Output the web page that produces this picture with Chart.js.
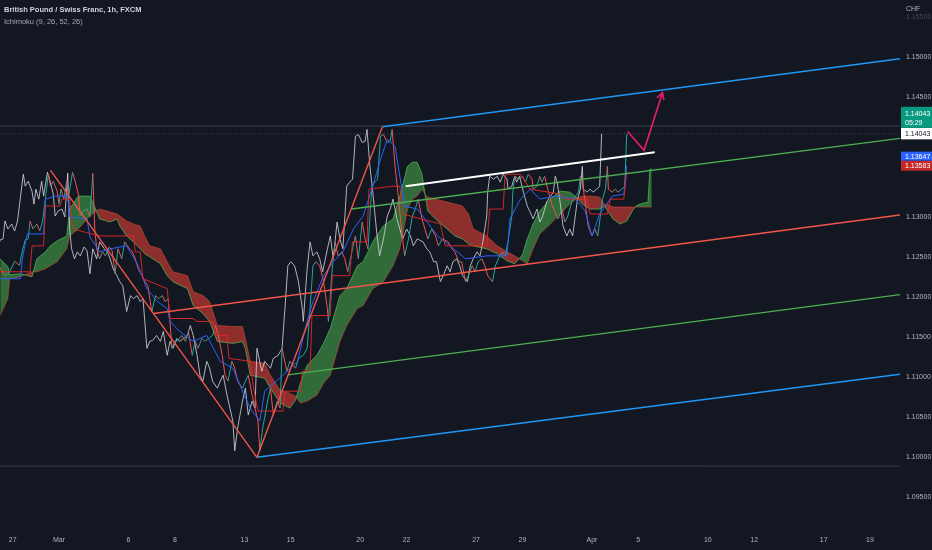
<!DOCTYPE html>
<html><head><meta charset="utf-8">
<script src="https://cdn.jsdelivr.net/npm/chart.js@4.4.1/dist/chart.umd.min.js"></script>
<style>
html,body{margin:0;padding:0;background:#131722;overflow:hidden;}
canvas{display:block;}
</style></head>
<body>
<canvas id="c" width="932" height="550"></canvas>
<script>
// ---- time axis: trading hours since Mon 27 Feb 00:00 ----
const dayTickHours  = [0,48,120,168,240,288,360,408,480,528,600,648,720,768,840,888];
const dayTickLabels = ['27','Mar','6','8','13','15','20','22','27','29','Apr','5','10','12','17','19'];
const priceTicks = [1.095,1.100,1.105,1.110,1.115,1.120,1.125,1.130,1.145,1.150,1.155];

// ---- close prices (hour, value) ----
const closeHours = [-13,-8,-3,2,7,10,13,16,18,21,25,28,31,34,37,39,42,46,48,50,53,56,58,62,65,68,70,73,77,80,83,85,87,90,93,96,100,103,106,109,113,116,121,124,127,130,134,137,140,144,148,151,155,158,161,165,168,171,175,179,182,186,189,192,196,199,207,210,213,217,220,223,227,230,233,238,241,244,248,251,254,256,259,264,267,270,274,277,279,284,287,293,296,301,305,308,311,314,318,322,326,327,331,334,337,341,344,347,352,355,358,362,365,368,372,375,378,381,384,388,391,393,396,399,403,406,410,414,417,420,424,427,430,434,438,441,445,451,455,458,462,465,469,472,476,479,482,486,489,492,497,500,503,507,510,513,517,518,520,524,528,531,534,538,539,543,546,548,551,555,559,562,565,569,572,575,579,583,586,588,590,593,596,600,603,606,611,614,616,617,621,624,627,631,634,636];
const closeValues = [1.1237,1.1227,1.1232,1.1245,1.1240,1.1258,1.12717,1.1273,1.12954,1.12854,1.12916,1.12829,1.12954,1.13252,1.13538,1.13389,1.13451,1.13327,1.13165,1.13352,1.13227,1.13451,1.13265,1.13563,1.13439,1.1329,1.13016,1.13078,1.13103,1.13004,1.13551,1.12854,1.12606,1.12481,1.12568,1.12518,1.1263,1.12581,1.12295,1.12606,1.12481,1.12693,1.12606,1.12568,1.12481,1.12357,1.1227,1.12195,1.12145,1.11822,1.12021,1.11984,1.12021,1.11946,1.11984,1.11362,1.11449,1.11461,1.11523,1.11449,1.11573,1.11275,1.11449,1.11362,1.11486,1.11449,1.11523,1.11648,1.11523,1.11275,1.11026,1.10951,1.112,1.11113,1.10951,1.10864,1.10951,1.11026,1.10777,1.10615,1.10454,1.10081,1.10367,1.10703,1.10864,1.10528,1.10703,1.10615,1.11362,1.11076,1.112,1.11113,1.11237,1.11275,1.11362,1.11859,1.12394,1.12444,1.12394,1.12195,1.11859,1.11698,1.12357,1.12693,1.12518,1.12568,1.12481,1.12319,1.12606,1.12767,1.12481,1.12941,1.1273,1.12606,1.13389,1.13439,1.13476,1.14011,1.14036,1.13936,1.13949,1.14098,1.13638,1.13314,1.12817,1.12518,1.1273,1.13016,1.13103,1.13227,1.12979,1.12854,1.1273,1.12854,1.12767,1.12643,1.1273,1.12693,1.12606,1.12568,1.12444,1.12444,1.12195,1.1227,1.12394,1.12319,1.12444,1.12481,1.12394,1.1227,1.12195,1.12394,1.12481,1.12568,1.12518,1.12693,1.13016,1.13314,1.13513,1.13476,1.13513,1.13439,1.13538,1.13476,1.13352,1.13389,1.13513,1.13439,1.13513,1.13314,1.1314,1.13066,1.12979,1.13103,1.12941,1.13016,1.1319,1.13265,1.13314,1.13513,1.13439,1.1319,1.12892,1.12767,1.12854,1.12767,1.13227,1.13352,1.13638,1.13352,1.13314,1.13352,1.13314,1.13352,1.13389,1.14043];
const chikouShift = 26;

// ---- Ichimoku conversion / base lines ----
const tenkanHours = [-13,8,10,15,32,34,44,57,59,77,80,90,101,118,129,139,150,160,163,173,187,201,215,228,239,246,256,261,280,295,305,311,322,332,342,353,363,373,381,388,396,401,406,419,427,440,453,469,491,512,515,526,536,546,562,583,593,600,608,621,633,636];
const tenkanValues = [1.12232,1.12232,1.12481,1.12792,1.12792,1.13227,1.13265,1.13265,1.13004,1.12979,1.12755,1.12568,1.12606,1.12643,1.12419,1.12108,1.11946,1.11859,1.11698,1.11573,1.11449,1.11523,1.112,1.11113,1.10802,1.10615,1.10454,1.10827,1.11026,1.112,1.11698,1.11946,1.1227,1.12444,1.12568,1.12854,1.13016,1.13389,1.13725,1.13974,1.13887,1.13513,1.1314,1.13103,1.12979,1.12767,1.12643,1.12481,1.12518,1.12518,1.12979,1.13227,1.13352,1.13227,1.13265,1.13227,1.13078,1.12767,1.13041,1.13265,1.1329,1.13647];
const kijunHours = [-13,18,20,32,34,49,51,59,62,90,125,127,132,135,160,163,187,191,208,210,222,224,246,249,254,280,282,298,300,308,310,329,331,349,352,367,369,394,401,404,443,448,491,494,508,510,526,536,567,572,595,598,616,619,633,636];
const kijunValues = [1.12319,1.12319,1.12643,1.12643,1.1314,1.1314,1.13227,1.13227,1.12854,1.12767,1.12767,1.12568,1.12568,1.12232,1.12108,1.11735,1.11735,1.11698,1.11698,1.11523,1.11523,1.11237,1.112,1.10902,1.10578,1.10578,1.10827,1.10827,1.11076,1.11076,1.11772,1.11772,1.1227,1.1227,1.12693,1.12693,1.13352,1.13389,1.13389,1.13041,1.12916,1.12643,1.12643,1.13103,1.13103,1.13538,1.13538,1.13352,1.1329,1.13227,1.13227,1.13041,1.13041,1.13227,1.13227,1.13583];

// ---- leading spans (as plotted, 26 bars ahead) ----
const leadHours = [-13,-5,-3,8,20,25,34,39,46,56,59,68,80,85,90,101,108,111,118,125,132,137,142,153,160,166,181,187,197,204,212,228,238,241,246,261,267,277,287,293,298,305,315,322,329,339,346,357,363,373,384,394,401,409,414,419,424,427,430,438,450,458,466,472,477,491,502,512,520,528,533,539,546,557,567,577,585,590,598,608,613,615,622,629,636,643,647,650,658,660,662];
const spanA = [1.12481,1.12382,1.12282,1.12295,1.12257,1.12481,1.12568,1.12643,1.12705,1.12767,1.13103,1.13265,1.13265,1.13128,1.12979,1.12941,1.12979,1.12892,1.12767,1.12693,1.12606,1.12543,1.12506,1.12419,1.1227,1.12195,1.12108,1.11897,1.11797,1.11698,1.11449,1.11424,1.11449,1.11362,1.11026,1.10988,1.10864,1.10678,1.10615,1.10715,1.10926,1.1115,1.11275,1.11424,1.11611,1.12021,1.12108,1.12394,1.12444,1.12693,1.12892,1.12979,1.13265,1.13638,1.13688,1.13688,1.13538,1.1329,1.13078,1.12979,1.12854,1.12767,1.1273,1.12668,1.12643,1.12606,1.12543,1.12456,1.12419,1.12531,1.1273,1.12916,1.13078,1.13227,1.13327,1.13314,1.1324,1.13165,1.13103,1.13103,1.1314,1.13103,1.12979,1.12916,1.12954,1.13103,1.13153,1.13165,1.1319,1.13601,1.13601];
const spanB = [1.11772,1.11984,1.12232,1.12257,1.12319,1.12319,1.12357,1.12394,1.12444,1.12606,1.12767,1.12854,1.13016,1.13066,1.13103,1.13066,1.13041,1.13016,1.12954,1.12916,1.12892,1.12755,1.12643,1.12606,1.12444,1.12319,1.1227,1.12071,1.12021,1.11946,1.11648,1.11635,1.11635,1.11486,1.112,1.11175,1.11026,1.1084,1.10802,1.10765,1.10678,1.10703,1.10777,1.10926,1.11026,1.11449,1.11648,1.11859,1.11897,1.12108,1.12195,1.12394,1.12606,1.13103,1.13227,1.13265,1.13352,1.1329,1.13252,1.13227,1.1319,1.13165,1.1314,1.13041,1.12854,1.12767,1.12643,1.12568,1.12518,1.12456,1.12419,1.12606,1.12792,1.12916,1.13041,1.13165,1.1324,1.13265,1.13265,1.13252,1.13153,1.13165,1.13128,1.13128,1.13128,1.13128,1.13128,1.13128,1.13128,1.13128,1.13128];

// ---- drawings (hour, price) ----
const trendDownHours = [39,253],  trendDownPrices = [1.1359,1.1000];
const trendUpHours   = [253,383], trendUpPrices   = [1.1000,1.14132];
const medianHours    = [146,919], medianPrices    = [1.11797,1.13028];
const upperBlueHours = [383,919], upperBluePrices = [1.14132,1.14981];
const lowerBlueHours = [253,919], lowerBluePrices = [1.1000,1.11038];
const upperGreenHours= [351,919], upperGreenPrices= [1.13103,1.13986];
const lowerGreenHours= [285,919], lowerGreenPrices= [1.1103,1.12033];
const whiteHours     = [407,665], whitePrices     = [1.13389,1.13812];
const arrowHours     = [637,654,673], arrowPrices = [1.14073,1.13837,1.14558];
const levelPrices    = [1.14141,1.0989];
const countdownText  = '05:29';

const X_MIN = -13.15, X_MAX = 919.07, Y_MIN = 1.09129, Y_MAX = 1.15716;
const FONT = '"Liberation Sans Narrow","Liberation Sans",Arial,sans-serif';
Chart.defaults.font.family = FONT;

const pts = (xs, ys) => xs.map((x, i) => ({x: x, y: ys[i]}));
const lineDs = (data, color, width, order, extra) => Object.assign({
  data: data, borderColor: color, backgroundColor: color, borderWidth: width,
  pointRadius: 0, pointHoverRadius: 0, fill: false, tension: 0, order: order
}, extra || {});

const lastClose = closeValues[closeValues.length - 1];
const lastTenkan = tenkanValues[tenkanValues.length - 1];
const lastKijun = kijunValues[kijunValues.length - 1];

const datasets = [];
datasets.push(lineDs(pts(arrowHours, arrowPrices), '#e91e63', 1.6, 0));
datasets.push(lineDs(pts(whiteHours, whitePrices), '#ffffff', 2, 1));
datasets.push(lineDs(pts(trendDownHours, trendDownPrices), '#f2554a', 1.4, 2));
datasets.push(lineDs(pts(trendUpHours, trendUpPrices), '#f2554a', 1.4, 2));
datasets.push(lineDs(pts(medianHours, medianPrices), '#f2554a', 1.4, 2));
datasets.push(lineDs(pts(upperBlueHours, upperBluePrices), '#2196f3', 1.4, 2));
datasets.push(lineDs(pts(lowerBlueHours, lowerBluePrices), '#2196f3', 1.4, 2));
datasets.push(lineDs(pts(upperGreenHours, upperGreenPrices), '#4caf50', 1.4, 2));
datasets.push(lineDs(pts(lowerGreenHours, lowerGreenPrices), '#4caf50', 1.4, 2));
datasets.push(lineDs([{x: X_MIN, y: levelPrices[0]}, {x: X_MAX, y: levelPrices[0]}], 'rgba(120,123,134,0.45)', 1, 3));
datasets.push(lineDs([{x: X_MIN, y: levelPrices[1]}, {x: X_MAX, y: levelPrices[1]}], 'rgba(120,123,134,0.35)', 1, 3));
datasets.push(lineDs([{x: X_MIN, y: lastClose}, {x: X_MAX, y: lastClose}], 'rgba(120,123,134,0.5)', 1, 3, {borderDash: [1, 2]}));
datasets.push(lineDs(pts(kijunHours, kijunValues), 'rgba(220,40,40,0.95)', 1, 4));
datasets.push(lineDs(pts(tenkanHours, tenkanValues), '#2962ff', 1, 5));
datasets.push(lineDs(pts(closeHours, closeValues), '#26a69a', 1, 6, {
  segment: { borderColor: c => c.p1.parsed.y >= c.p0.parsed.y ? '#26a69a' : '#ef5350' }
}));
datasets.push(lineDs(closeHours.map((h, i) => ({x: h - chikouShift, y: closeValues[i]})), 'rgba(205,207,214,0.85)', 1, 7));
const spanBIndex = datasets.length + 1;
datasets.push(lineDs(pts(leadHours, spanA), 'rgba(76,175,80,0.8)', 1, 8, {
  fill: {target: spanBIndex, above: 'rgba(67,160,71,0.62)', below: 'rgba(244,67,54,0.55)'}
}));
datasets.push(lineDs(pts(leadHours, spanB), 'rgba(244,67,54,0.55)', 1, 9));

const overlay = {
  id: 'overlay',
  afterDatasetsDraw(chart) {
    const ctx = chart.ctx;
    const meta = chart.getDatasetMeta(0);
    const n = meta.data.length;
    const p1 = meta.data[n - 1], p0 = meta.data[n - 2];
    const a = Math.atan2(p1.y - p0.y, p1.x - p0.x);
    ctx.save();
    ctx.strokeStyle = '#e91e63'; ctx.lineWidth = 1.6; ctx.lineCap = 'round';
    ctx.beginPath();
    ctx.moveTo(p1.x - 7 * Math.cos(a - 0.5), p1.y - 7 * Math.sin(a - 0.5));
    ctx.lineTo(p1.x, p1.y);
    ctx.lineTo(p1.x - 7 * Math.cos(a + 0.5), p1.y - 7 * Math.sin(a + 0.5));
    ctx.stroke();
    ctx.restore();
  },
  afterDraw(chart) {
    const ctx = chart.ctx, ys = chart.scales.y;
    ctx.save();
    ctx.textBaseline = 'alphabetic'; ctx.textAlign = 'left';
    ctx.font = '600 7.5px ' + FONT; ctx.fillStyle = '#d1d4dc';
    ctx.fillText('British Pound / Swiss Franc, 1h, FXCM', 4, 12);
    ctx.font = '7.5px ' + FONT; ctx.fillStyle = '#a3a6af';
    ctx.fillText('Ichimoku (9, 26, 52, 26)', 4, 24);
    ctx.font = '7px ' + FONT; ctx.fillStyle = '#b2b5be';
    ctx.fillText('CHF', 906, 11);
    const bx = 901, bw = 31;
    const yc = ys.getPixelForValue(lastClose);
    ctx.fillStyle = '#ffffff'; ctx.fillRect(bx, yc - 6, bw, 11.5);
    ctx.fillStyle = '#131722'; ctx.font = '7px ' + FONT;
    ctx.fillText(lastClose.toFixed(5), 905, yc + 2.5);
    ctx.fillStyle = '#089981'; ctx.fillRect(bx, yc - 27, bw, 21);
    ctx.fillStyle = '#ffffff';
    ctx.fillText(lastClose.toFixed(5), 905, yc - 18);
    ctx.fillText(countdownText, 905, yc - 9);
    const yk = ys.getPixelForValue(lastKijun);
    ctx.fillStyle = '#c62828'; ctx.fillRect(bx, yk - 10, bw, 10);
    ctx.fillStyle = '#2962ff'; ctx.fillRect(bx, yk - 19, bw, 9);
    ctx.fillStyle = '#ffffff';
    ctx.fillText(lastKijun.toFixed(5), 905, yk - 2.5);
    ctx.fillText(lastTenkan.toFixed(5), 905, yk - 12);
    ctx.restore();
  }
};

new Chart(document.getElementById('c'), {
  type: 'line',
  data: { datasets: datasets },
  options: {
    responsive: false, animation: false, devicePixelRatio: 1,
    layout: { padding: 0, autoPadding: false },
    plugins: { legend: { display: false }, tooltip: { enabled: false }, filler: { propagate: false } },
    scales: {
      x: {
        type: 'linear', min: X_MIN, max: X_MAX,
        grid: { display: false, drawTicks: false }, border: { display: false },
        afterBuildTicks: s => { s.ticks = dayTickHours.map(v => ({value: v})); },
        afterFit: s => { s.height = 23; s.paddingLeft = 0; s.paddingRight = 0; },
        ticks: {
          autoSkip: false, maxRotation: 0, padding: 9, color: '#b2b5be',
          font: { size: 7 },
          callback: v => dayTickLabels[dayTickHours.indexOf(v)]
        }
      },
      y: {
        type: 'linear', position: 'right', min: Y_MIN, max: Y_MAX,
        grid: { display: false, drawTicks: false }, border: { display: false },
        afterBuildTicks: s => { s.ticks = priceTicks.map(v => ({value: v})); },
        afterFit: s => { s.width = 32; s.paddingTop = 0; s.paddingBottom = 0; },
        ticks: {
          padding: 6, font: { size: 7 },
          color: c => c.tick && c.tick.value > 1.1525 ? 'rgba(178,181,190,0.3)' : '#b2b5be',
          callback: v => v.toFixed(5)
        }
      }
    }
  },
  plugins: [overlay]
});
</script>
</body></html>
